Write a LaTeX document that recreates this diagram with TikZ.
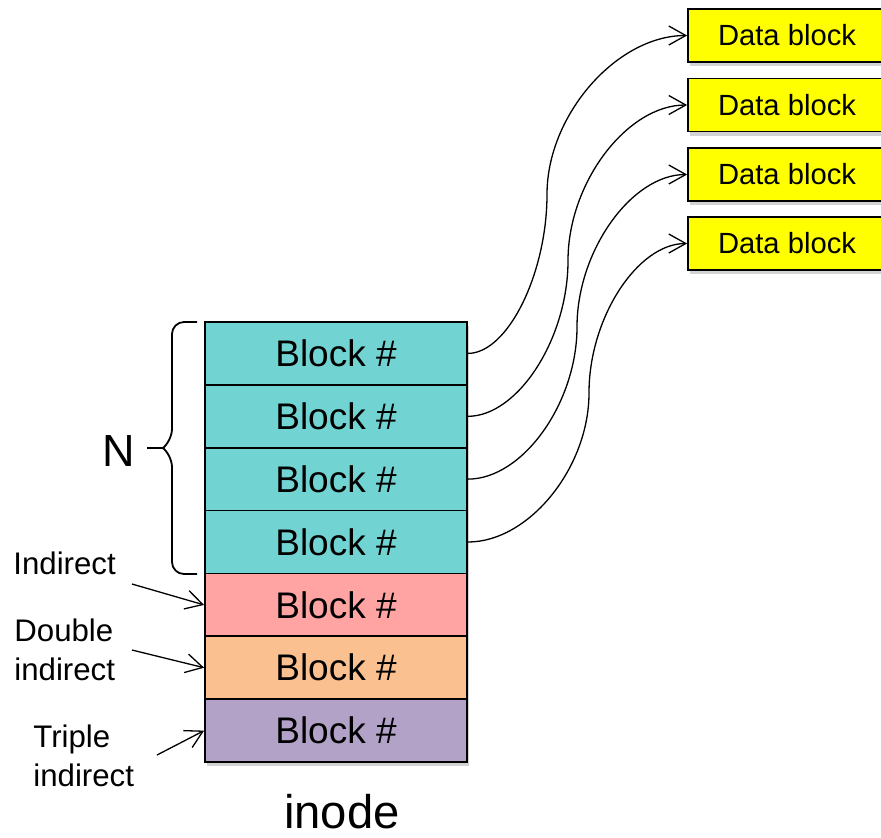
\documentclass[tikz,border=0pt]{standalone}
\usepackage{fontspec}
\setmainfont{Liberation Sans}
\usepackage{tikz}
\usetikzlibrary{arrows.meta,shadows}
\tikzset{>={Straight Barb[length=8.5pt,width=9.5pt]}}
\definecolor{directcol}{RGB}{114,211,211}
\definecolor{indircol}{RGB}{255,163,163}
\definecolor{dindircol}{RGB}{250,192,144}
\definecolor{tindircol}{RGB}{179,162,199}
\definecolor{datacol}{RGB}{255,255,0}
\tikzset{
  slot/.style={draw,line width=0.9pt,minimum width=131pt,minimum height=31.43pt,inner sep=0pt,
    font=\fontsize{18.5}{22}\selectfont,drop shadow={shadow xshift=0.8pt,shadow yshift=-2pt,opacity=0.35}},
  datablk/.style={draw,line width=0.9pt,fill=datacol,minimum width=99pt,minimum height=26.5pt,inner sep=0pt,
    font=\fontsize{14.6}{17}\selectfont,drop shadow={shadow xshift=0.8pt,shadow yshift=-2pt,opacity=0.35}},
  lbl/.style={font=\fontsize{15.6}{19.5}\selectfont,align=left,inner sep=0pt},
  link/.style={->,line width=0.65pt}
}
\begin{document}
\begin{tikzpicture}[x=0.5pt,y=-0.5pt]
      \useasboundingbox (0,0) rectangle (881,837);
      % data blocks
      \node[datablk] (d1) at (787,35.5) {Data block};
      \node[datablk] (d2) at (787,105) {Data block};
      \node[datablk] (d3) at (787,174.5) {Data block};
      \node[datablk] (d4) at (787,243.5) {Data block};
      % inode
      \node[slot,fill=directcol] (b1) at (336,353.4) {Block \#};
      \node[slot,fill=directcol] (b2) at (336,416.3) {Block \#};
      \node[slot,fill=directcol] (b3) at (336,479.1) {Block \#};
      \node[slot,fill=directcol] (b4) at (336,542.0) {Block \#};
      \node[slot,fill=indircol] (b5) at (336,604.9) {Block \#};
      \node[slot,fill=dindircol] (b6) at (336,667.7) {Block \#};
      \node[slot,fill=tindircol] (b7) at (336,730.6) {Block \#};
      \node[font=\fontsize{23.6}{27}\selectfont,anchor=base,inner sep=0pt] (inode) at (342,828) {inode};
      % direct pointers
      \coordinate (m1) at (547,194.2);
      \coordinate (m2) at (568,260.6);
      \coordinate (m3) at (577,326.8);
      \coordinate (m4) at (589,392.8);
      \draw[link] (b1.east) .. controls +(40,0) and +(0,79) .. (m1) .. controls +(0,-79) and +(-70.5,0) .. (d1.west);
      \draw[link] (b2.east) .. controls +(50,0) and +(0,78) .. (m2) .. controls +(0,-78) and +(-60,0) .. (d2.west);
      \draw[link] (b3.east) .. controls +(55,0) and +(0,76) .. (m3) .. controls +(0,-76) and +(-55.5,0) .. (d3.west);
      \draw[link] (b4.east) .. controls +(61,0) and +(0,75) .. (m4) .. controls +(0,-75) and +(-49.5,0) .. (d4.west);
      % brace
      \node[font=\fontsize{22.5}{27}\selectfont,anchor=base,inner sep=0pt] (N) at (119,466) {N};
      \coordinate (tip) at (163,448);
      \coordinate (nend) at (147,448);
      \draw[line width=0.9pt,rounded corners=6pt] (197,322) -- (172,322) -- (172,441) to[rounded corners=0pt] (tip);
      \draw[line width=0.9pt,rounded corners=6pt] (197,574) -- (172,574) -- (172,455) to[rounded corners=0pt] (tip);
      \draw[line width=0.9pt] (nend) -- (tip);
      % indirect pointers
      \node[lbl,anchor=base west] (ind) at (13,574) {Indirect};
      \node[lbl,anchor=base west] (dind) at (14,680) {Double\\indirect};
      \node[lbl,anchor=base west] (tind) at (33,786) {Triple\\indirect};
      \coordinate (s5) at (132,584);
      \coordinate (s6) at (132,650);
      \coordinate (s7) at (157,755);
      \draw[link] (s5) -- (b5.west);
      \draw[link] (s6) -- (b6.west);
      \draw[link] (s7) -- (b7.west);
      \end{tikzpicture}
\end{document}
